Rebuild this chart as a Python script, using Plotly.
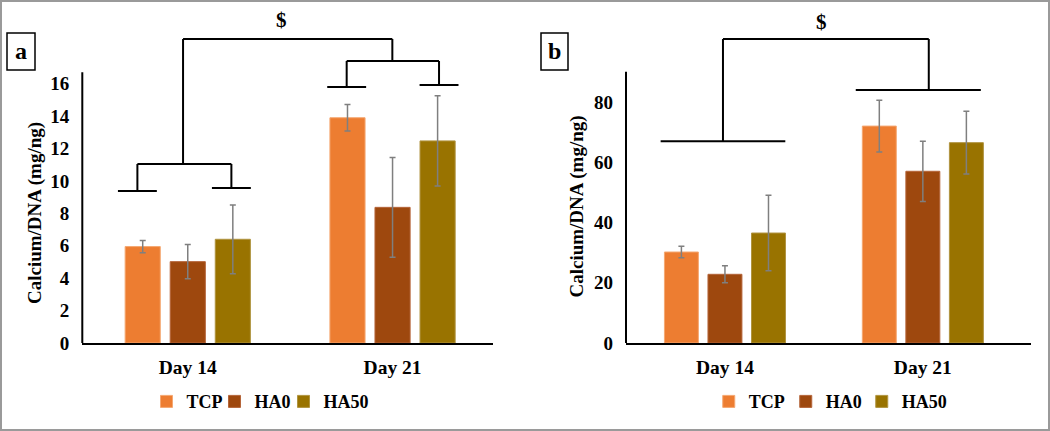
import plotly.graph_objects as go

# categories and groups
days = ['Day 14', 'Day 21']
groups = ['TCP', 'HA0', 'HA50']
colors = ['#ED7D31', '#9E480E', '#997300']
edges = ['#F5A872', '#B5653A', '#B09440']

# panel a: Calcium/DNA (mean, sd) per group
a_tcp = [5.95, 13.9]
a_tcp_sd = [0.38, 0.82]
a_ha0 = [5.02, 8.37]
a_ha0_sd = [1.06, 3.08]
a_ha50 = [6.4, 12.47]
a_ha50_sd = [2.12, 2.78]

# panel b
b_tcp = [30.2, 72.0]
b_tcp_sd = [1.9, 8.6]
b_ha0 = [22.8, 57.0]
b_ha0_sd = [2.8, 10.0]
b_ha50 = [36.5, 66.5]
b_ha50_sd = [12.5, 10.4]

a_ticks = [0, 2, 4, 6, 8, 10, 12, 14, 16]
b_ticks = [0, 20, 40, 60, 80]

# figure geometry (pixels)
W, H = 1050, 431
M_T, M_B = 14, 88


def px(p):
    return p / W


def py(p):
    return (H - M_B - p) / (H - M_T - M_B)


serif = 'Liberation Serif'
bold = dict(family=serif, color='black', weight='bold')

fig = go.Figure()

# one single-entry legend per bar series, so each key sits where it should
legend_left = [[146.5, 214.5, 283.5], [708.75, 785.75, 861.75]]

panels = [
    ('x', 'y', [a_tcp, a_ha0, a_ha50], [a_tcp_sd, a_ha0_sd, a_ha50_sd]),
    ('x2', 'y2', [b_tcp, b_ha0, b_ha50], [b_tcp_sd, b_ha0_sd, b_ha50_sd]),
]
legends = {}
k = 0
for p, (xa, ya, vals, sds) in enumerate(panels):
    for i, (g, c, e, v, s) in enumerate(zip(groups, colors, edges, vals, sds)):
        k += 1
        lg = 'legend' if k == 1 else 'legend' + str(k)
        legends[lg] = dict(x=px(legend_left[p][i]), y=py(401.7), xanchor='left',
                           yanchor='middle', orientation='h',
                           font=dict(size=18, **bold), bgcolor='rgba(0,0,0,0)')
        fig.add_bar(x=days, y=v, name=g, xaxis=xa, yaxis=ya, legend=lg,
                    showlegend=True,
                    marker=dict(color=c, line=dict(color=e, width=1)),
                    error_y=dict(type='data', array=s, color='#7f7f7f',
                                 thickness=1.5, width=3))

axis_common = dict(showgrid=False, zeroline=False, ticks='', automargin=False)

fig.update_layout(
    width=W, height=H,
    margin=dict(l=0, r=0, t=M_T, b=M_B),
    paper_bgcolor='white', plot_bgcolor='white',
    showlegend=True,
    barmode='group', bargap=0.34, bargroupgap=0.22,
    xaxis=dict(domain=[px(82.3), px(493.3)], range=[-0.515, 1.492],
               showline=True, linecolor='black', linewidth=2,
               tickfont=dict(size=19.5, **bold), ticklabelstandoff=6,
               anchor='y', **axis_common),
    yaxis=dict(domain=[0, 1], range=[0, 20.3], showline=False,
               tickvals=a_ticks, tickfont=dict(size=19, **bold),
               ticklabelstandoff=12, anchor='x', **axis_common),
    xaxis2=dict(domain=[px(626), px(1030.7)], range=[-0.5, 1.545],
                showline=True, linecolor='black', linewidth=2,
                tickfont=dict(size=19.5, **bold), ticklabelstandoff=6,
                anchor='y2', **axis_common),
    yaxis2=dict(domain=[0, 1], range=[0, 109.2], showline=False,
                tickvals=b_ticks, tickfont=dict(size=19, **bold),
                ticklabelstandoff=12, anchor='x2', **axis_common),
    **legends,
)

shapes = []
line = dict(color='black', width=2)

# y axis lines, stopping below the brackets
shapes.append(dict(type='line', xref='x domain', yref='y', x0=0, x1=0,
                   y0=0, y1=16.7, line=line))
shapes.append(dict(type='line', xref='x2 domain', yref='y2', x0=0, x1=0,
                   y0=0, y1=90, line=line))


def seg(xr, yr, x0, y0, x1, y1):
    shapes.append(dict(type='line', xref=xr, yref=yr, x0=x0, y0=y0,
                       x1=x1, y1=y1, line=line))


def capped(xr, yr, xl, xr_, ytop, yl, yr2, cap=0.095):
    # bracket with a small horizontal cap under each leg
    seg(xr, yr, xl, ytop, xr_, ytop)
    seg(xr, yr, xl, ytop, xl, yl)
    seg(xr, yr, xr_, ytop, xr_, yr2)
    seg(xr, yr, xl - cap, yl, xl + cap, yl)
    seg(xr, yr, xr_ - cap, yr2, xr_ + cap, yr2)


# panel a brackets
capped('x', 'y', -0.246, 0.213, 11.05, 9.38, 9.56)
capped('x', 'y', 0.776, 1.227, 17.4, 15.79, 15.92)
seg('x', 'y', -0.023, 18.75, 0.999, 18.75)
seg('x', 'y', -0.023, 18.75, -0.023, 11.05)
seg('x', 'y', 0.999, 18.75, 0.999, 17.4)

# panel b brackets
seg('x2', 'y2', -0.325, 67.0, 0.305, 67.0)
seg('x2', 'y2', 0.661, 84.0, 1.293, 84.0)
seg('x2', 'y2', -0.01, 100.9, 1.03, 100.9)
seg('x2', 'y2', -0.01, 100.9, -0.01, 67.0)
seg('x2', 'y2', 1.03, 100.9, 1.03, 84.0)

# panel label boxes
shapes.append(dict(type='rect', xref='paper', yref='paper', x0=px(7), x1=px(35),
                   y0=py(70), y1=py(33), line=dict(color='black', width=1.5)))
shapes.append(dict(type='rect', xref='paper', yref='paper', x0=px(541), x1=px(568),
                   y0=py(70), y1=py(33), line=dict(color='black', width=1.5)))

# outer frame
shapes.append(dict(type='rect', xref='paper', yref='paper', x0=px(1), x1=px(1049),
                   y0=py(430), y1=py(1), line=dict(color='#9a9a9a', width=2)))

fig.update_layout(shapes=shapes)

annots = [
    dict(text='$', xref='x', yref='y', x=0.46, y=19.9, font=dict(size=21, **bold)),
    dict(text='$', xref='x2', yref='y2', x=0.49, y=106.6, font=dict(size=21, **bold)),
    dict(text='a', xref='paper', yref='paper', x=px(21), y=py(51), font=dict(size=24, **bold)),
    dict(text='b', xref='paper', yref='paper', x=px(554.5), y=py(51), font=dict(size=24, **bold)),
    dict(text='Calcium/DNA (mg/ng)', xref='paper', yref='y', x=px(35), y=8.02,
         textangle=-90, font=dict(size=19, **bold)),
    dict(text='Calcium/DNA (mg/ng)', xref='paper', yref='y2', x=px(577), y=45.3,
         textangle=-90, font=dict(size=19, **bold)),
]
for a in annots:
    a.update(showarrow=False, xanchor='center', yanchor='middle')
fig.update_layout(annotations=annots)

# drop the default page margin so the figure sits at the window origin
fig.write_html('out.html', config={'displayModeBar': False},
               post_script="document.body.style.margin='0';")
